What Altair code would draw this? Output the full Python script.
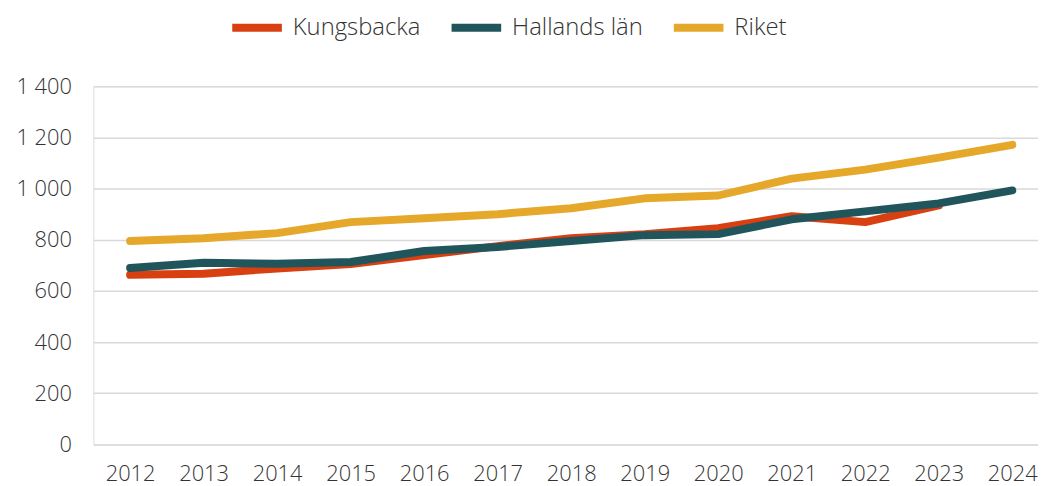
import altair as alt
import pandas as pd

years = list(range(2012, 2025))
series = ["Kungsbacka", "Hallands län", "Riket"]
kungsbacka = [663, 667, 688, 705, 740, 775, 806, 822, 845, 892, 869, 934, None]
hallands = [690, 710, 706, 713, 756, 772, 795, 818, 822, 880, 911, 942, 993]
riket = [795, 806, 826, 869, 884, 900, 923, 962, 973, 1039, 1074, 1121, 1171]
colors = ["#D84012", "#21555C", "#E5A82A"]

rows = []
for name, vals in zip(series, [kungsbacka, hallands, riket]):
    for y, v in zip(years, vals):
        if v is not None:
            rows.append({"year": y, "value": v, "serie": name})
df = pd.DataFrame(rows)

FONT = "Open Sans"
TXT = "#333333"

chart = alt.Chart(df).mark_line(strokeWidth=8, strokeCap="round", strokeJoin="round").encode(
    x=alt.X("year:Q",
            scale=alt.Scale(domain=[2011.5, 2024.35], nice=False, zero=False),
            axis=alt.Axis(values=years, format="d", title=None, grid=False, ticks=False,
                          domain=False, labelFontSize=22, labelPadding=19,
                          labelColor=TXT, labelFont=FONT, labelFontWeight=300,
                          labelFlush=False)),
    y=alt.Y("value:Q",
            scale=alt.Scale(domain=[0, 1400], nice=False),
            axis=alt.Axis(values=[0, 200, 400, 600, 800, 1000, 1200, 1400],
                          labelExpr="replace(format(datum.value, ','), ',', ' ')",
                          title=None, ticks=False, domain=False, grid=True,
                          gridColor="#d9d9d9", gridWidth=1.5,
                          labelFontSize=22, labelPadding=22, labelColor=TXT,
                          labelFont=FONT, labelFontWeight=300)),
    color=alt.Color("serie:N",
                    scale=alt.Scale(domain=series, range=colors),
                    sort=series,
                    legend=alt.Legend(title=None, orient="none", legendX=136, legendY=-88,
                                      direction="horizontal", symbolType="stroke",
                                      symbolSize=2500, symbolStrokeWidth=8,
                                      labelFontSize=24, labelFont=FONT, labelFontWeight=300,
                                      labelColor=TXT, columnPadding=15,
                                      labelOffset=7)),
    order=alt.Order("serie_order:Q"),
).transform_calculate(
    serie_order="indexof(['Kungsbacka','Hallands län','Riket'], datum.serie)"
).properties(
    width=952, height=361,
    autosize=alt.AutoSizeParams(type="none"),
    padding={"left": 86, "top": 77, "right": 0, "bottom": 40},
).configure_view(stroke=None).configure(background="white")

chart.save("out.html", embed_options={"renderer": "svg", "actions": False})
